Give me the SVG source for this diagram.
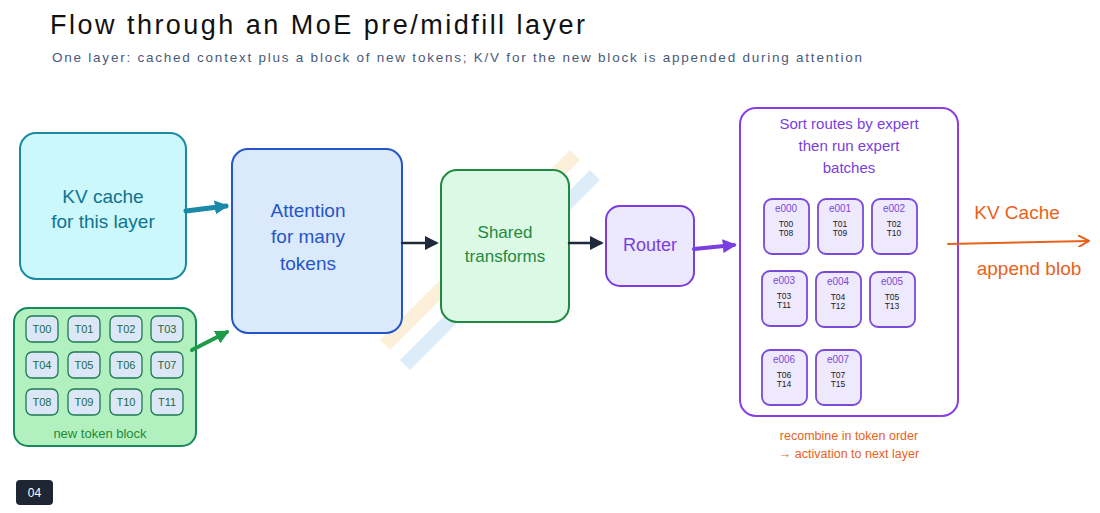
<svg xmlns="http://www.w3.org/2000/svg" width="1100" height="513" viewBox="0 0 1100 513">
<defs>
<style>
text{font-family:"Liberation Sans",Arial,sans-serif}
.c{text-anchor:middle}
.tok rect{fill:#dbe6f7;stroke:#1d7a52;stroke-width:1.3}
.tok text{font-size:11px;fill:#1d6a46}
.ex rect{fill:#eee9fd;stroke:#7a4ad8;stroke-width:1.8}
.ex .h{font-size:10px;fill:#7a4ad8}
.ex .t{font-size:8.5px;fill:#222}
</style>
<marker id="m" viewBox="0 0 10 10" refX="8" refY="5" markerWidth="14" markerHeight="14" markerUnits="userSpaceOnUse" orient="auto"><path d="M0,0L10,5L0,10z" fill="context-stroke"/></marker>
<marker id="mo" viewBox="0 0 12 12" refX="10" refY="6" markerWidth="12" markerHeight="12" markerUnits="userSpaceOnUse" orient="auto"><path d="M0,0L11,6L0,12" fill="none" stroke="#e8621a" stroke-width="2"/></marker>
</defs>
<rect width="1100" height="513" fill="#fff"/>
<g id="watermark" opacity="0.16">
<path d="M385,345L575,155" stroke="#f6a623" stroke-width="14"/>
<path d="M405,365L595,175" stroke="#2a8fd6" stroke-width="14"/>
</g>
<text x="50" y="34" font-size="27" fill="#111" textLength="535">Flow through an MoE pre/midfill layer</text>
<text x="52" y="62" font-size="13.5" fill="#4a5a7a" textLength="810">One layer: cached context plus a block of new tokens; K/V for the new block is appended during attention</text>
<g id="kv">
<rect x="20" y="133" width="166" height="146" rx="16" fill="#ccf7fb" stroke="#1a8aa0" stroke-width="2"/>
<text x="103" y="203" class="c" font-size="19" fill="#0e7490">KV cache</text>
<text x="103" y="228" class="c" font-size="19" fill="#0e7490">for this layer</text>
</g>
<g id="tokens">
<rect x="14" y="308" width="182" height="138" rx="14" fill="#b2f0c0" stroke="#168a5a" stroke-width="2"/>
<g class="tok">
<rect x="26" y="316" width="32" height="26" rx="6"/><text x="42" y="333" class="c">T00</text>
<rect x="68" y="316" width="32" height="26" rx="6"/><text x="84" y="333" class="c">T01</text>
<rect x="110" y="316" width="32" height="26" rx="6"/><text x="126" y="333" class="c">T02</text>
<rect x="151" y="316" width="32" height="26" rx="6"/><text x="167" y="333" class="c">T03</text>
<rect x="26" y="352" width="32" height="26" rx="6"/><text x="42" y="369" class="c">T04</text>
<rect x="68" y="352" width="32" height="26" rx="6"/><text x="84" y="369" class="c">T05</text>
<rect x="110" y="352" width="32" height="26" rx="6"/><text x="126" y="369" class="c">T06</text>
<rect x="151" y="352" width="32" height="26" rx="6"/><text x="167" y="369" class="c">T07</text>
<rect x="26" y="389" width="32" height="26" rx="6"/><text x="42" y="406" class="c">T08</text>
<rect x="68" y="389" width="32" height="26" rx="6"/><text x="84" y="406" class="c">T09</text>
<rect x="110" y="389" width="32" height="26" rx="6"/><text x="126" y="406" class="c">T10</text>
<rect x="151" y="389" width="32" height="26" rx="6"/><text x="167" y="406" class="c">T11</text>
</g>
<text x="100" y="438" class="c" font-size="13" fill="#1d8a3a">new token block</text>
</g>
<g id="attention">
<rect x="232" y="149" width="170" height="184" rx="16" fill="#dbe9fd" stroke="#2456c8" stroke-width="2"/>
<text x="308" y="217" class="c" font-size="19" fill="#2456c8">Attention</text>
<text x="308" y="243" class="c" font-size="19" fill="#2456c8">for many</text>
<text x="308" y="270" class="c" font-size="19" fill="#2456c8">tokens</text>
</g>
<g id="shared">
<rect x="441" y="170" width="128" height="152" rx="16" fill="#dcf9e6" stroke="#1f8a40" stroke-width="2"/>
<text x="505" y="238" class="c" font-size="17" fill="#1f8a40">Shared</text>
<text x="505" y="262" class="c" font-size="17" fill="#1f8a40">transforms</text>
</g>
<g id="router">
<rect x="606" y="206" width="88" height="80" rx="14" fill="#ece8fd" stroke="#7a3ee0" stroke-width="2"/>
<text x="650" y="251" class="c" font-size="18" fill="#7a3ee0">Router</text>
</g>
<g id="experts">
<rect x="740" y="108" width="218" height="308" rx="16" fill="#fff" stroke="#8a3ee8" stroke-width="2"/>
<text x="849" y="129" class="c" font-size="15" fill="#7a3ee0">Sort routes by expert</text>
<text x="849" y="151" class="c" font-size="15" fill="#7a3ee0">then run expert</text>
<text x="849" y="173" class="c" font-size="15" fill="#7a3ee0">batches</text>
<g class="ex">
<rect x="764" y="199" width="45" height="55" rx="8"/><text x="786" y="212" class="c h">e000</text><text x="786" y="227" class="c t">T00</text><text x="786" y="236" class="c t">T08</text>
<rect x="818" y="199" width="45" height="55" rx="8"/><text x="840" y="212" class="c h">e001</text><text x="840" y="227" class="c t">T01</text><text x="840" y="236" class="c t">T09</text>
<rect x="872" y="199" width="45" height="55" rx="8"/><text x="894" y="212" class="c h">e002</text><text x="894" y="227" class="c t">T02</text><text x="894" y="236" class="c t">T10</text>
<rect x="762" y="271" width="45" height="55" rx="8"/><text x="784" y="284" class="c h">e003</text><text x="784" y="299" class="c t">T03</text><text x="784" y="308" class="c t">T11</text>
<rect x="816" y="272" width="45" height="55" rx="8"/><text x="838" y="285" class="c h">e004</text><text x="838" y="300" class="c t">T04</text><text x="838" y="309" class="c t">T12</text>
<rect x="870" y="272" width="45" height="55" rx="8"/><text x="892" y="285" class="c h">e005</text><text x="892" y="300" class="c t">T05</text><text x="892" y="309" class="c t">T13</text>
<rect x="762" y="350" width="45" height="55" rx="8"/><text x="784" y="363" class="c h">e006</text><text x="784" y="378" class="c t">T06</text><text x="784" y="387" class="c t">T14</text>
<rect x="816" y="350" width="45" height="55" rx="8"/><text x="838" y="363" class="c h">e007</text><text x="838" y="378" class="c t">T07</text><text x="838" y="387" class="c t">T15</text>
</g>
</g>
<g id="connectors" fill="none" stroke-linecap="round">
<path d="M186,211L226,206" stroke="#1a8aa8" stroke-width="5" marker-end="url(#m)"/>
<path d="M192,350L227,332" stroke="#1f9a48" stroke-width="4" marker-end="url(#m)"/>
<path d="M402,243L436,243" stroke="#1e2a3a" stroke-width="2.5" marker-end="url(#m)"/>
<path d="M569,243L601,243" stroke="#1e2a3a" stroke-width="2.5" marker-end="url(#m)"/>
<path d="M694,249L734,245" stroke="#7a3ee0" stroke-width="4" marker-end="url(#m)"/>
<path d="M948,244L1088,241" stroke="#e8621a" stroke-width="2" marker-end="url(#mo)"/>
</g>
<text x="1017" y="219" class="c" font-size="19" fill="#e8621a">KV Cache</text>
<text x="1029" y="275" class="c" font-size="19" fill="#e8621a">append blob</text>
<text x="849" y="440" class="c" font-size="12.5" fill="#e8621a">recombine in token order</text>
<text x="849" y="458" class="c" font-size="12.5" fill="#e8621a">→ activation to next layer</text>
<g id="badge">
<rect x="16" y="480" width="37" height="25" rx="4" fill="#1e2533"/>
<text x="34.5" y="497" class="c" font-size="12" fill="#fff">04</text>
</g>
</svg>
